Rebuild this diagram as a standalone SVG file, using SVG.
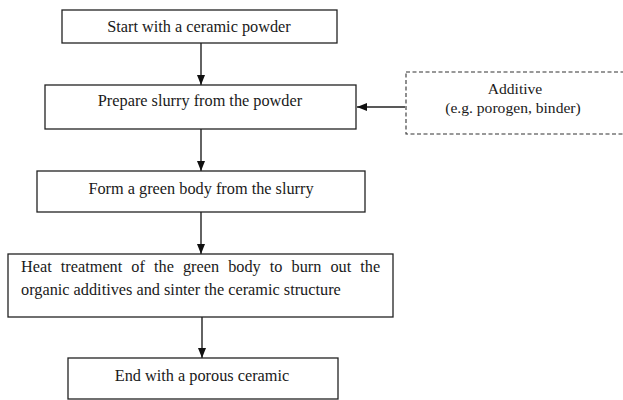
<svg xmlns="http://www.w3.org/2000/svg" width="623" height="400" viewBox="0 0 623 400">
<defs>
<style>
.box{fill:#fff;stroke:#222;stroke-width:1.3}
.dash{fill:#fff;stroke:#333;stroke-width:1.1;stroke-dasharray:4,2.5}
text{font-family:'Liberation Serif','Times New Roman','DejaVu Serif',serif;font-size:16.3px;fill:#1a1a1a}
.t{text-anchor:middle}
.s{font-size:15.6px}
.c{stroke:#222;stroke-width:1.4;fill:none}
</style>
<marker id="ah" viewBox="0 0 10 10" refX="10" refY="5" markerWidth="10" markerHeight="10" markerUnits="userSpaceOnUse" orient="auto">
<path d="M0,1 L10,5 L0,9 Z" fill="#111"/>
</marker>
</defs>
<rect width="623" height="400" fill="#fff"/>
<g id="connectors">
<line class="c" x1="201" y1="43" x2="201" y2="85" marker-end="url(#ah)"/>
<line class="c" x1="201" y1="129" x2="201" y2="171" marker-end="url(#ah)"/>
<line class="c" x1="201" y1="212" x2="201" y2="254" marker-end="url(#ah)"/>
<line class="c" x1="202" y1="317" x2="202" y2="358" marker-end="url(#ah)"/>
<line class="c" x1="405" y1="107" x2="357" y2="107" marker-end="url(#ah)"/>
</g>
<g id="n1">
<rect class="box" x="62" y="10" width="275" height="33"/>
<text class="t" x="199" y="31.5">Start with a ceramic powder</text>
</g>
<g id="n2">
<rect class="box" x="45" y="85" width="311" height="44"/>
<text class="t" x="200" y="105.5">Prepare slurry from the powder</text>
</g>
<g id="additive">
<rect class="dash" x="406" y="72" width="230" height="62"/>
<text class="t s" x="515" y="94">Additive</text>
<text class="t s" x="513" y="112.5">(e.g. porogen, binder)</text>
</g>
<g id="n3">
<rect class="box" x="37" y="171" width="328" height="41"/>
<text class="t" x="201" y="193.5">Form a green body from the slurry</text>
</g>
<g id="n4">
<rect class="box" x="8" y="254" width="385" height="63"/>
<text x="21" y="272" word-spacing="5">Heat treatment of the green body to burn out the</text>
<text x="21" y="295">organic additives and sinter the ceramic structure</text>
</g>
<g id="n5">
<rect class="box" x="68" y="358" width="270" height="41"/>
<text class="t" x="202" y="380.5">End with a porous ceramic</text>
</g>
</svg>
